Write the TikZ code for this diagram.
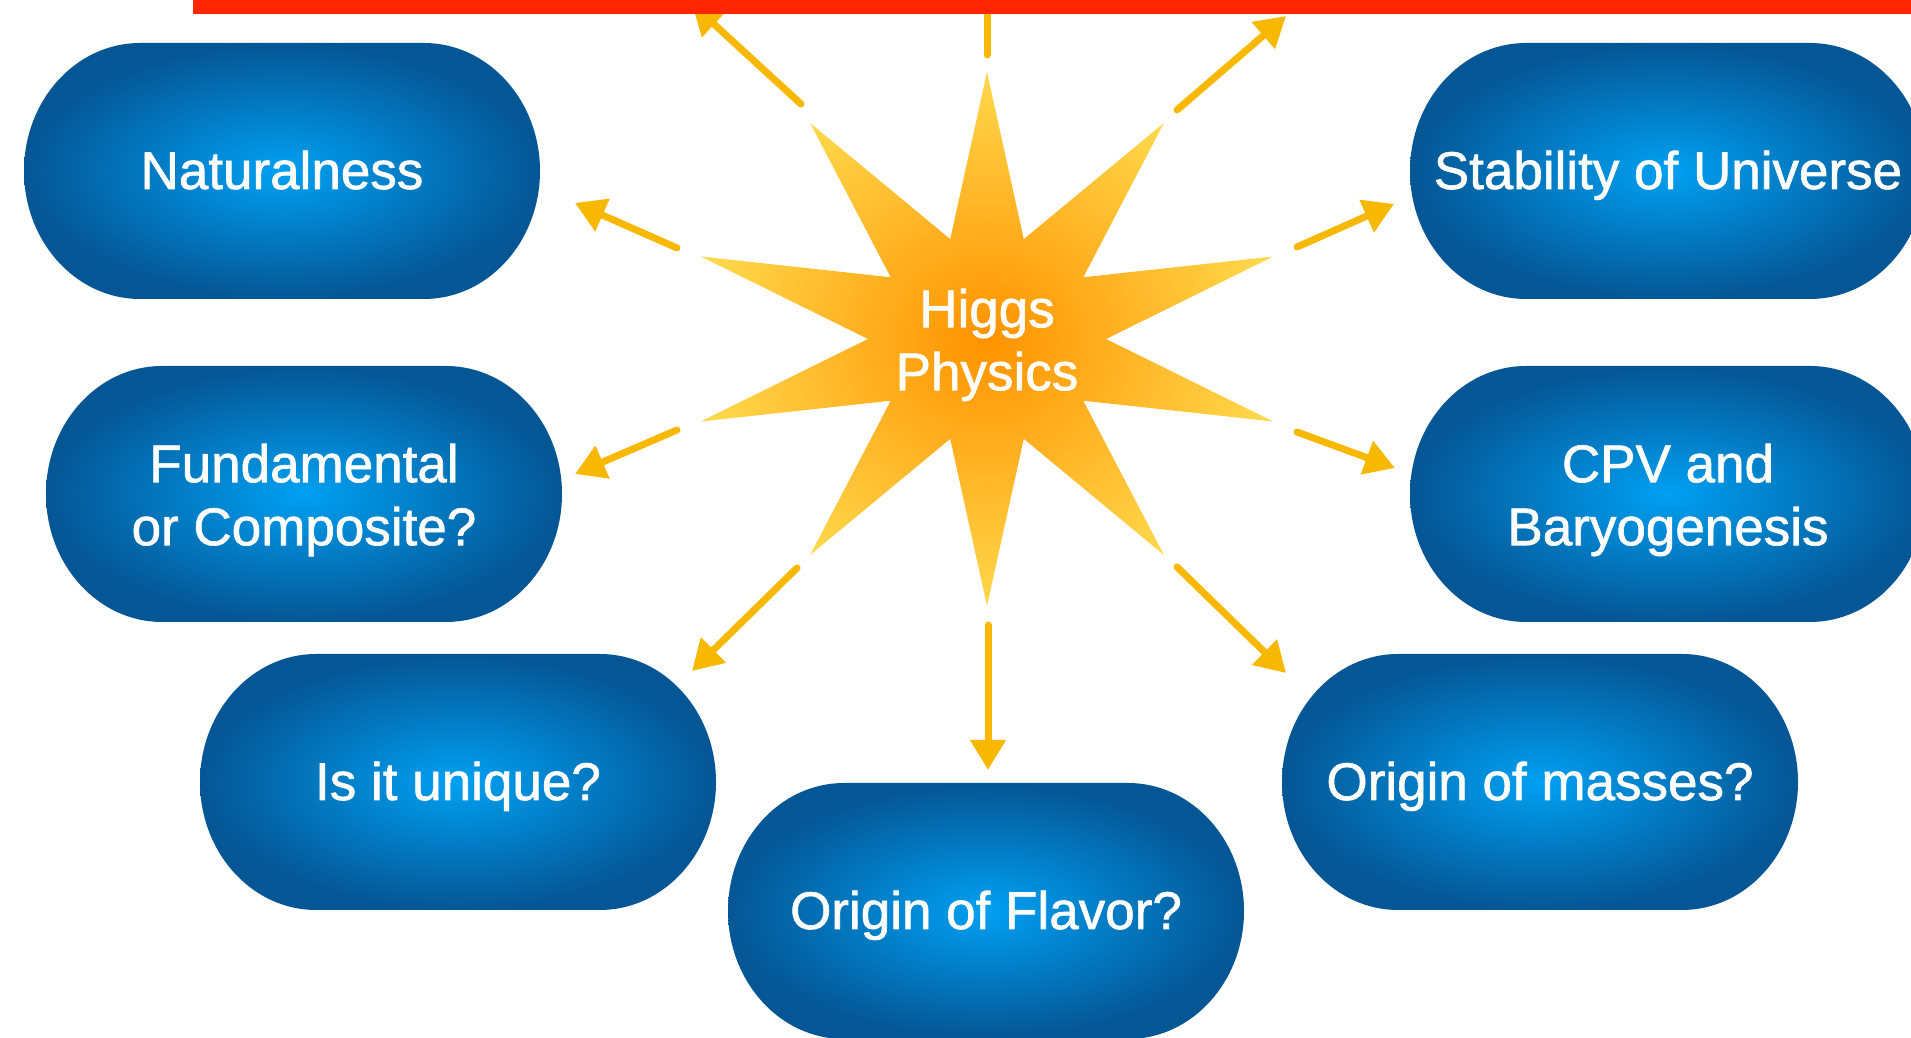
\documentclass[tikz,border=0pt]{standalone}
\usepackage{fontspec}
\setmainfont{Liberation Sans}
\newfontfamily\pillfont[FakeBold=1.2]{Liberation Sans}
\usetikzlibrary{arrows.meta}
\definecolor{barred}{RGB}{255,38,0}
\definecolor{arrowc}{RGB}{249,184,0}
\definecolor{pillin}{RGB}{0,160,242}
\definecolor{pillout}{RGB}{5,86,148}
\definecolor{starin}{RGB}{255,146,0}
\definecolor{starout}{RGB}{255,216,76}
\newcommand{\pillshape}[2]{%
  \shade[pillshade] (#1-142,#2+128) -- (#1+142,#2+128)
    arc[start angle=90,end angle=-90,x radius=116,y radius=128]
    -- (#1-142,#2-128)
    arc[start angle=270,end angle=90,x radius=116,y radius=128] -- cycle;}
\begin{document}
\begin{tikzpicture}[x=1pt,y=1pt,
  pillshade/.style={inner color=pillin, outer color=pillout},
  starshade/.style={inner color=starin, outer color=starout},
  ptext/.style={text=white, font=\pillfont\fontsize{53}{63}\selectfont, align=center, inner sep=0pt},
  pillnode/.style={ptext, minimum width=516pt, minimum height=256pt},
  oneline/.style={pillnode, text height=36pt, text depth=0pt},
  arr/.style={draw=arrowc, line width=7pt, line cap=round, -{Triangle[length=30pt,width=34pt]}},
]
\useasboundingbox (0,0) rectangle (1911,1038);
\fill[white] (0,0) rectangle (1911,1038);

% pills
\pillshape{282}{867}
\pillshape{304}{544}
\pillshape{458}{256}
\pillshape{986}{127}
\pillshape{1540}{256}
\pillshape{1668}{544}
\pillshape{1668}{867}

\node[oneline] (nat) at (282,867) {Naturalness};
\node[pillnode] (fund) at (304,538) {Fundamental\\or Composite?};
\node[oneline] (uniq) at (458,256) {Is it unique?};
\node[oneline] (flav) at (986,127) {Origin of Flavor?};
\node[oneline] (mass) at (1540,256) {Origin of masses?};
\node[pillnode] (cpv) at (1668,538) {CPV and\\Baryogenesis};
\node[oneline] (stab) at (1668,867) {Stability of Universe};

% star
\shade[starshade] (987,966)
  \foreach \k in {1,...,19} {
    -- ({987+ifthenelse(isodd(\k),119,301)*cos(90+18*\k)},
        {699+ifthenelse(isodd(\k),105,267)*sin(90+18*\k)})
  } -- cycle;
\node[ptext] (star) at (987,693) {Higgs\\Physics};

% arrow end points
\coordinate (a1s) at (801,934);  \coordinate (a1e) at (692,1034);
\coordinate (a2s) at (987,983);  \coordinate (a2e) at (987,1058);
\coordinate (a3s) at (1177,928); \coordinate (a3e) at (1286,1022);
\coordinate (a4s) at (1297,791); \coordinate (a4e) at (1394,834);
\coordinate (a5s) at (1297,606); \coordinate (a5e) at (1395,570);
\coordinate (a6s) at (1177,471); \coordinate (a6e) at (1286,365);
\coordinate (a7s) at (988,413);  \coordinate (a7e) at (988,268);
\coordinate (a8s) at (797,470);  \coordinate (a8e) at (692,367);
\coordinate (a9s) at (677,608);  \coordinate (a9e) at (575,564);
\coordinate (a10s) at (677,790); \coordinate (a10e) at (575,835);

\foreach \i in {1,...,10} {
  \draw[arr] (a\i s) -- (a\i e);
}

% red bar
\fill[barred] (193,1024) rectangle (1911,1038);
\end{tikzpicture}
\end{document}
